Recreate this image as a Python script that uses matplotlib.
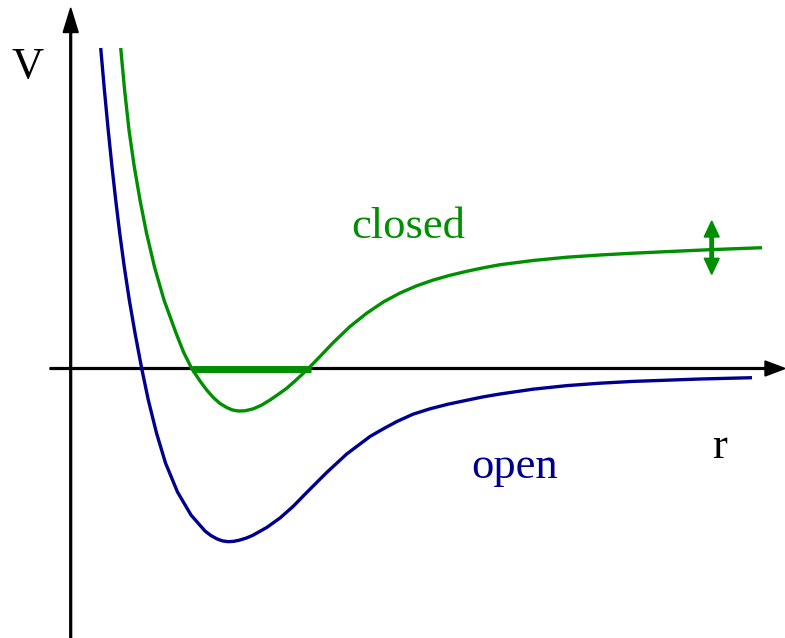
import matplotlib
matplotlib.use("Agg")
from matplotlib import pyplot as plt

# potential curves (r, V in arbitrary units, origin at the axes crossing)
open_r = [0.300, 0.337, 0.375, 0.411, 0.450, 0.490, 0.536, 0.586, 0.643, 0.710, 0.776, 0.858,
          0.948, 1.068, 1.203, 1.343, 1.403, 1.463, 1.518, 1.576, 1.633, 1.693, 1.758, 1.823,
          1.960, 2.093, 2.223, 2.360, 2.560, 2.760, 2.993, 3.123, 3.260, 3.423, 3.593, 3.773,
          3.963, 4.123, 4.293, 4.623, 4.963, 5.293, 5.623, 6.293, 6.813]
open_V = [3.205, 2.785, 2.385, 2.035, 1.685, 1.355, 1.015, 0.685, 0.355, 0.000, -0.315, -0.645,
          -0.945, -1.235, -1.465, -1.625, -1.671, -1.704, -1.724, -1.732, -1.728, -1.715, -1.695, -1.667,
          -1.590, -1.495, -1.380, -1.240, -1.040, -0.855, -0.680, -0.605, -0.531, -0.457, -0.403, -0.357,
          -0.317, -0.284, -0.255, -0.207, -0.171, -0.147, -0.129, -0.105, -0.092]

closed_r = [0.500, 0.539, 0.583, 0.633, 0.693, 0.758, 0.838, 0.933, 1.053, 1.128, 1.210, 1.293,
            1.360, 1.426, 1.493, 1.560, 1.618, 1.676, 1.743, 1.826, 1.908, 1.993, 2.073, 2.160,
            2.243, 2.326, 2.376, 2.493, 2.626, 2.793, 2.960, 3.126, 3.293, 3.460, 3.626, 3.793,
            3.960, 4.126, 4.293, 4.623, 4.963, 5.293, 5.623, 6.013, 6.413, 6.913]
closed_V = [3.205, 2.785, 2.385, 2.035, 1.685, 1.355, 1.015, 0.685, 0.355, 0.165, 0.000, -0.125,
            -0.215, -0.290, -0.350, -0.390, -0.415, -0.425, -0.423, -0.403, -0.367, -0.315, -0.260, -0.198,
            -0.125, -0.048, 0.000, 0.120, 0.260, 0.420, 0.553, 0.665, 0.755, 0.827, 0.885, 0.932,
            0.972, 1.007, 1.038, 1.080, 1.113, 1.135, 1.153, 1.171, 1.189, 1.208]

# bound level of the closed channel
level_r = [1.21, 2.40]
level_V = [0.0, 0.0]

# tuning arrow on the closed channel threshold
tune_r = 6.41
tune_V = [0.942, 1.189, 1.475]

BLUE = "#00008f"
GREEN = "#008f00"

fig = plt.figure(figsize=(7.85, 6.38), dpi=100)
ax = fig.add_axes([0, 0, 1, 1])
ax.set_xlim(-0.707, 7.143)
ax.set_ylim(-2.695, 3.685)
ax.axis("off")

# axes with arrow heads
ax.arrow(0, -2.8, 0, 3.605 + 2.8, width=0.018, head_width=0.15, head_length=0.245,
         length_includes_head=True, color="k", zorder=1)
ax.arrow(-0.207, 0, 7.35, 0, width=0.018, head_width=0.15, head_length=0.2,
         length_includes_head=True, color="k", zorder=1)

line_kw = dict(lw=2.4, solid_capstyle="butt", solid_joinstyle="round", zorder=3)
ax.plot(open_r, open_V, color=BLUE, **line_kw)
ax.plot(closed_r, closed_V, color=GREEN, **line_kw)
ax.plot(level_r, level_V, color=GREEN, lw=5, solid_capstyle="butt", zorder=2)

# double arrow
for v_end in (tune_V[0], tune_V[2]):
    ax.arrow(tune_r, tune_V[1], 0, v_end - tune_V[1], width=0.035, head_width=0.15,
             head_length=0.16, length_includes_head=True, color=GREEN, zorder=4)

font = dict(family="Liberation Serif", fontsize=32, ha="left", va="baseline")
ax.text(-0.59, 2.902, "V", color="k", **font)
ax.text(6.41, -0.895, "r", color="k", **font)
ax.text(2.81, 1.305, "closed", color=GREEN, **font)
ax.text(4.01, -1.092, "open", color=BLUE, **font)

plt.savefig("out.png", dpi=100)
